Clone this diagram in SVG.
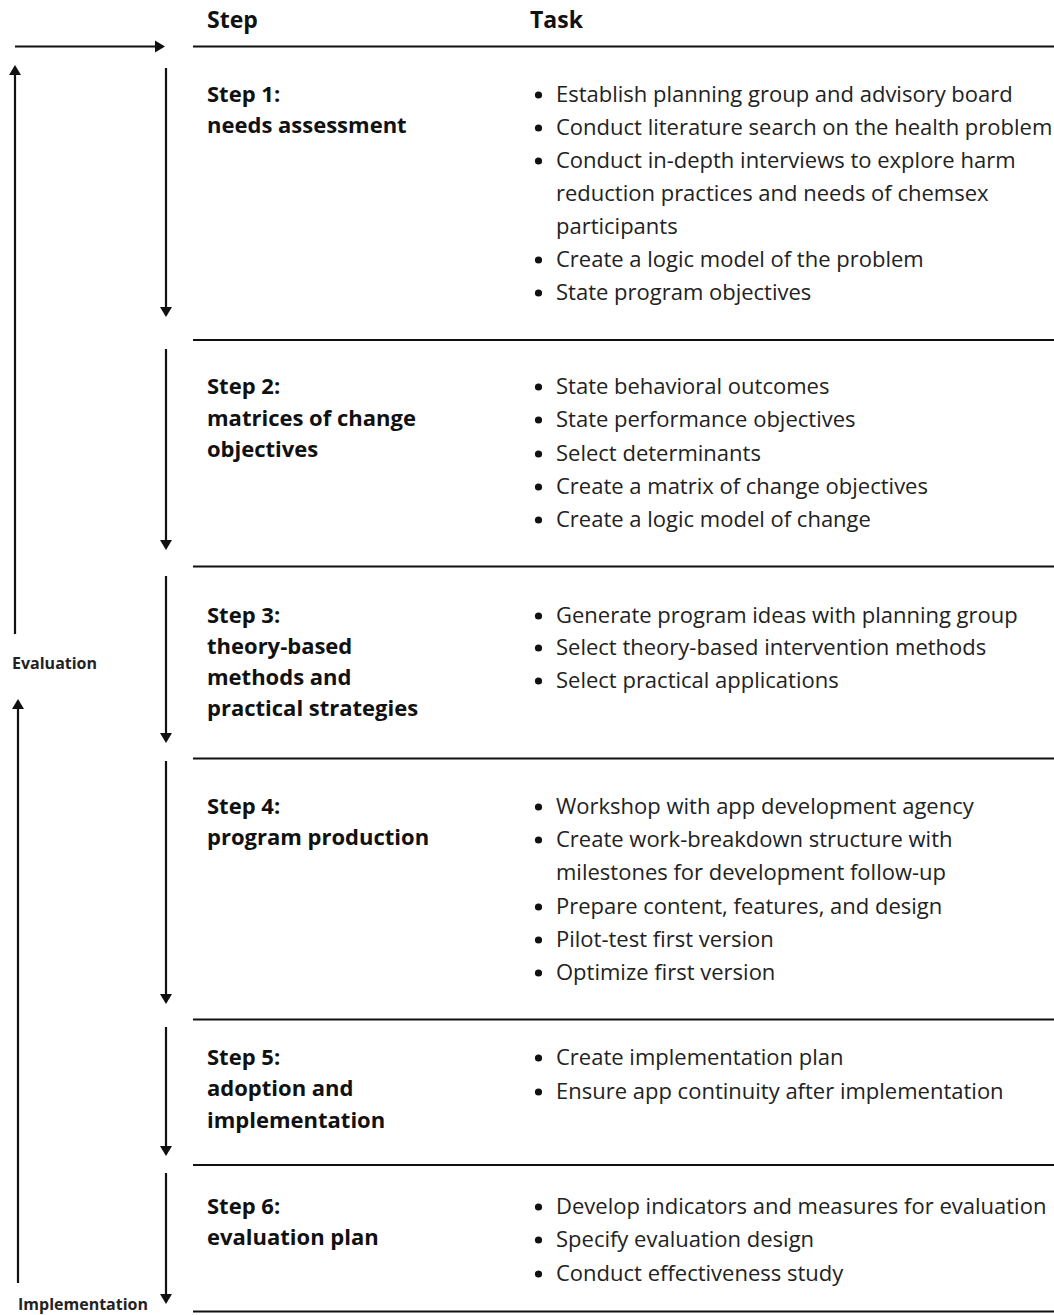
<svg xmlns="http://www.w3.org/2000/svg" width="1054" height="1315" viewBox="0 0 1054 1315">
<style>
.h{font-family:"Open Sans","Liberation Sans",sans-serif;font-weight:bold;font-size:23px;fill:#111}
.s{font-family:"Open Sans","Liberation Sans",sans-serif;font-weight:bold;font-size:22px;fill:#111}
.t{font-family:"Open Sans","Liberation Sans",sans-serif;font-size:22px;fill:#222}
.lab{font-family:"Open Sans","Liberation Sans",sans-serif;font-weight:bold;font-size:16px;fill:#222}
.rule{stroke:#111;stroke-width:2.2;fill:none}
.arr{stroke:#111;stroke-width:2.2;fill:none;marker-end:url(#ah)}
.b{fill:#111}
</style>
<defs>
<marker id="ah" viewBox="0 0 10 12" refX="8" refY="6" markerWidth="10" markerHeight="13" markerUnits="userSpaceOnUse" orient="auto">
<path d="M0,0 L10,6 L0,12 Z" fill="#111"/>
</marker>
</defs>
<g id="header">
<text class="h" x="207" y="28">Step</text>
<text class="h" x="530" y="28">Task</text>
</g>
<g id="rules">
<line class="rule" x1="193" y1="46.5" x2="1054" y2="46.5"/>
<line class="rule" x1="193" y1="340" x2="1054" y2="340"/>
<line class="rule" x1="193" y1="566.5" x2="1054" y2="566.5"/>
<line class="rule" x1="193" y1="758.5" x2="1054" y2="758.5"/>
<line class="rule" x1="193" y1="1019.5" x2="1054" y2="1019.5"/>
<line class="rule" x1="193" y1="1165" x2="1054" y2="1165"/>
<line class="rule" x1="193" y1="1311.5" x2="1054" y2="1311.5"/>
</g>
<g id="connectors">
<line class="arr" x1="15" y1="46.5" x2="163" y2="46.5"/>
<line class="arr" x1="15" y1="634" x2="15" y2="67"/>
<line class="arr" x1="18" y1="1283" x2="18" y2="701"/>
<line class="arr" x1="166" y1="68" x2="166" y2="315"/>
<line class="arr" x1="166" y1="349" x2="166" y2="548"/>
<line class="arr" x1="166" y1="576" x2="166" y2="741"/>
<line class="arr" x1="166" y1="761" x2="166" y2="1002"/>
<line class="arr" x1="166" y1="1027" x2="166" y2="1154"/>
<line class="arr" x1="166" y1="1173" x2="166" y2="1302"/>
</g>
<g id="labels">
<text class="lab" x="12" y="669">Evaluation</text>
<text class="lab" x="18" y="1310">Implementation</text>
</g>
<g id="step1">
<text class="s" x="207" y="102">Step 1:</text>
<text class="s" x="207" y="133">needs assessment</text>
<circle class="b" cx="538.5" cy="95" r="3.6"/><text class="t" x="556" y="102">Establish planning group and advisory board</text>
<circle class="b" cx="538.5" cy="128" r="3.6"/><text class="t" x="556" y="135">Conduct literature search on the health problem</text>
<circle class="b" cx="538.5" cy="161" r="3.6"/><text class="t" x="556" y="168">Conduct in-depth interviews to explore harm</text>
<text class="t" x="556" y="201">reduction practices and needs of chemsex</text>
<text class="t" x="556" y="234">participants</text>
<circle class="b" cx="538.5" cy="260" r="3.6"/><text class="t" x="556" y="267">Create a logic model of the problem</text>
<circle class="b" cx="538.5" cy="293" r="3.6"/><text class="t" x="556" y="300">State program objectives</text>
</g>
<g id="step2">
<text class="s" x="207" y="394">Step 2:</text>
<text class="s" x="207" y="425.5">matrices of change</text>
<text class="s" x="207" y="457">objectives</text>
<circle class="b" cx="538.5" cy="387" r="3.6"/><text class="t" x="556" y="394">State behavioral outcomes</text>
<circle class="b" cx="538.5" cy="420" r="3.6"/><text class="t" x="556" y="427">State performance objectives</text>
<circle class="b" cx="538.5" cy="454" r="3.6"/><text class="t" x="556" y="461">Select determinants</text>
<circle class="b" cx="538.5" cy="487" r="3.6"/><text class="t" x="556" y="494">Create a matrix of change objectives</text>
<circle class="b" cx="538.5" cy="520" r="3.6"/><text class="t" x="556" y="527">Create a logic model of change</text>
</g>
<g id="step3">
<text class="s" x="207" y="623">Step 3:</text>
<text class="s" x="207" y="654">theory-based</text>
<text class="s" x="207" y="685">methods and</text>
<text class="s" x="207" y="716">practical strategies</text>
<circle class="b" cx="538.5" cy="616" r="3.6"/><text class="t" x="556" y="623">Generate program ideas with planning group</text>
<circle class="b" cx="538.5" cy="648" r="3.6"/><text class="t" x="556" y="655">Select theory-based intervention methods</text>
<circle class="b" cx="538.5" cy="681" r="3.6"/><text class="t" x="556" y="688">Select practical applications</text>
</g>
<g id="step4">
<text class="s" x="207" y="814">Step 4:</text>
<text class="s" x="207" y="845">program production</text>
<circle class="b" cx="538.5" cy="807" r="3.6"/><text class="t" x="556" y="814">Workshop with app development agency</text>
<circle class="b" cx="538.5" cy="840" r="3.6"/><text class="t" x="556" y="847">Create work-breakdown structure with</text>
<text class="t" x="556" y="880">milestones for development follow-up</text>
<circle class="b" cx="538.5" cy="907" r="3.6"/><text class="t" x="556" y="914">Prepare content, features, and design</text>
<circle class="b" cx="538.5" cy="940" r="3.6"/><text class="t" x="556" y="947">Pilot-test first version</text>
<circle class="b" cx="538.5" cy="973" r="3.6"/><text class="t" x="556" y="980">Optimize first version</text>
</g>
<g id="step5">
<text class="s" x="207" y="1065">Step 5:</text>
<text class="s" x="207" y="1096">adoption and</text>
<text class="s" x="207" y="1128">implementation</text>
<circle class="b" cx="538.5" cy="1058" r="3.6"/><text class="t" x="556" y="1065">Create implementation plan</text>
<circle class="b" cx="538.5" cy="1092" r="3.6"/><text class="t" x="556" y="1099">Ensure app continuity after implementation</text>
</g>
<g id="step6">
<text class="s" x="207" y="1214">Step 6:</text>
<text class="s" x="207" y="1245">evaluation plan</text>
<circle class="b" cx="538.5" cy="1207" r="3.6"/><text class="t" x="556" y="1214">Develop indicators and measures for evaluation</text>
<circle class="b" cx="538.5" cy="1240" r="3.6"/><text class="t" x="556" y="1247">Specify evaluation design</text>
<circle class="b" cx="538.5" cy="1274" r="3.6"/><text class="t" x="556" y="1281">Conduct effectiveness study</text>
</g>
</svg>
